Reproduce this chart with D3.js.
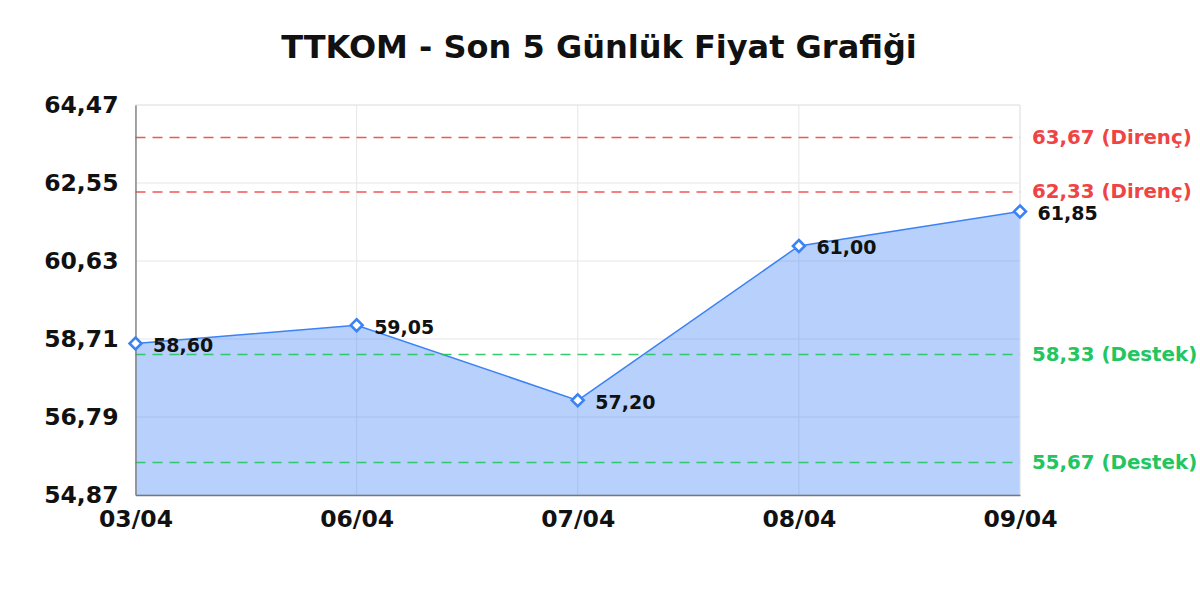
<!DOCTYPE html>
<html>
<head>
<meta charset="utf-8">
<script src="https://cdn.jsdelivr.net/npm/d3@7"></script>
<style>
  body { margin: 0; background: #fff; }
  text { font-family: "DejaVu Sans", sans-serif; }
</style>
</head>
<body>
<div id="chart"></div>
<script>
// Data
const dates = ["03/04", "06/04", "07/04", "08/04", "09/04"];
const prices = [58.60, 59.05, 57.20, 61.00, 61.85];
const yTicks = [54.87, 56.79, 58.71, 60.63, 62.55, 64.47];
const resistance = [63.67, 62.33];
const support = [58.33, 55.67];

const data = dates.map((d, i) => ({ date: d, price: prices[i] }));

// Turkish style decimals
const fmt = v => d3.format(".2f")(v).replace(".", ",");

// Dimensions
const margin = { top: 105, right: 180, bottom: 105, left: 135.5 };
const width = 1200 - margin.left - margin.right;
const height = 600 - margin.top - margin.bottom;

const root = d3.select("#chart")
  .append("svg")
  .attr("width", 1200)
  .attr("height", 600);

// Title
root.append("text")
  .attr("x", 599)
  .attr("y", 49)
  .attr("text-anchor", "middle")
  .attr("dominant-baseline", "middle")
  .attr("font-size", 32)
  .attr("font-weight", "bold")
  .attr("fill", "#111")
  .text("TTKOM - Son 5 Günlük Fiyat Grafiği");

const svg = root.append("g")
  .attr("transform", `translate(${margin.left},${margin.top})`);

// Scales
const x = d3.scalePoint()
  .domain(dates)
  .range([0, width]);

const y = d3.scaleLinear()
  .domain([yTicks[0], yTicks[yTicks.length - 1]])
  .range([height, 0]);

// Grid lines
svg.append("g")
  .selectAll("line")
  .data(yTicks)
  .enter()
  .append("line")
  .attr("x1", 0)
  .attr("x2", width)
  .attr("y1", d => y(d))
  .attr("y2", d => y(d))
  .attr("stroke", "#e6e6e6")
  .attr("stroke-width", 1);

svg.append("g")
  .selectAll("line")
  .data(dates)
  .enter()
  .append("line")
  .attr("x1", d => x(d))
  .attr("x2", d => x(d))
  .attr("y1", 0)
  .attr("y2", height)
  .attr("stroke", "#e6e6e6")
  .attr("stroke-width", 1);

// Area + line
const area = d3.area()
  .x(d => x(d.date))
  .y0(height)
  .y1(d => y(d.price));

const line = d3.line()
  .x(d => x(d.date))
  .y(d => y(d.price));

svg.append("path")
  .datum(data)
  .attr("fill", "rgba(59,130,246,0.37)")
  .attr("d", area);

svg.append("path")
  .datum(data)
  .attr("fill", "none")
  .attr("stroke", "#3b82f6")
  .attr("stroke-width", 1.5)
  .attr("d", line);

// Support / resistance lines
const levels = resistance.map(v => ({ v, label: "Direnç", color: "#ef4444" }))
  .concat(support.map(v => ({ v, label: "Destek", color: "#22c55e" })));

levels.forEach(l => {
  svg.append("line")
    .attr("x1", 0)
    .attr("x2", width)
    .attr("y1", y(l.v))
    .attr("y2", y(l.v))
    .attr("stroke", l.color)
    .attr("stroke-opacity", 0.9)
    .attr("stroke-width", 1.5)
    .attr("stroke-dasharray", "10,7");

  svg.append("text")
    .attr("x", width + 12)
    .attr("y", y(l.v) + 1)
    .attr("dominant-baseline", "middle")
    .attr("font-size", 19.8)
    .attr("font-weight", "bold")
    .attr("fill", l.color)
    .text(`${fmt(l.v)} (${l.label})`);
});

// Axes frame
svg.append("line")
  .attr("x1", 0).attr("x2", width)
  .attr("y1", 0).attr("y2", 0)
  .attr("stroke", "#e6e6e6");
svg.append("line")
  .attr("x1", width).attr("x2", width)
  .attr("y1", 0).attr("y2", height)
  .attr("stroke", "#e6e6e6");

const yAxis = svg.append("g")
  .call(d3.axisLeft(y).tickValues(yTicks).tickFormat(fmt).tickSize(0).tickPadding(17));
yAxis.select(".domain").attr("stroke", "#777").attr("stroke-width", 1.3);
yAxis.selectAll("text")
  .attr("font-size", 23.5)
  .attr("font-weight", "bold")
  .attr("fill", "#111")
  .style("font-family", "DejaVu Sans");

const xAxis = svg.append("g")
  .attr("transform", `translate(0, ${height})`)
  .call(d3.axisBottom(x).tickSize(0).tickPadding(15));
xAxis.select(".domain").attr("stroke", "#777").attr("stroke-width", 1.3);
xAxis.selectAll("text")
  .attr("font-size", 23.5)
  .attr("font-weight", "bold")
  .attr("fill", "#111")
  .style("font-family", "DejaVu Sans");

// Markers
svg.append("g")
  .selectAll("path")
  .data(data)
  .enter()
  .append("path")
  .attr("transform", d => `translate(${x(d.date)},${y(d.price)})`)
  .attr("d", d3.symbol().type(d3.symbolDiamond2).size(90))
  .attr("fill", "#fff")
  .attr("stroke", "#3b82f6")
  .attr("stroke-width", 2.6);

// Point labels
svg.append("g")
  .selectAll("text")
  .data(data)
  .enter()
  .append("text")
  .attr("x", d => x(d.date) + 17.5)
  .attr("y", d => y(d.price) + 3)
  .attr("dominant-baseline", "middle")
  .attr("font-size", 19)
  .attr("font-weight", "bold")
  .attr("fill", "#111")
  .text(d => fmt(d.price));
</script>
</body>
</html>
